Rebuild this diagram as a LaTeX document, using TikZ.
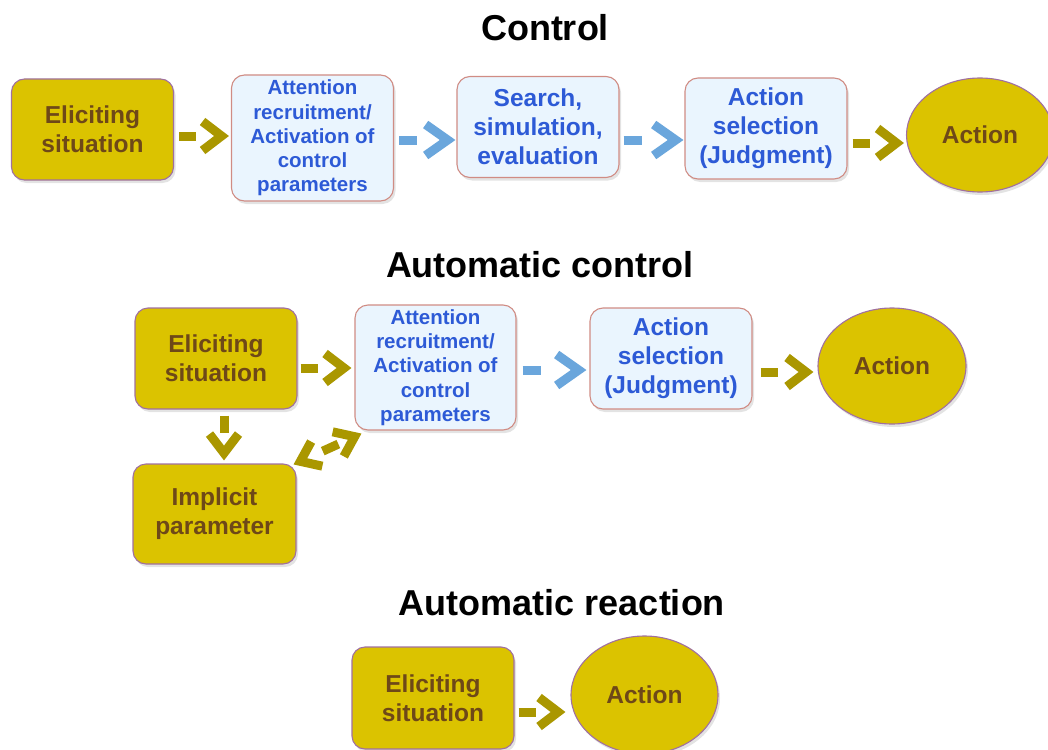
\documentclass[tikz,border=0pt]{standalone}
\usepackage{fontspec}
\setmainfont{Liberation Sans}
\usetikzlibrary{shapes.geometric,arrows.meta,shadows,calc}
\definecolor{gfill}{RGB}{219,195,0}
\definecolor{gborder}{RGB}{160,112,160}
\definecolor{gtext}{RGB}{110,72,24}
\definecolor{garrowc}{RGB}{170,151,0}
\definecolor{bfill}{RGB}{234,245,254}
\definecolor{bborder}{RGB}{208,140,132}
\definecolor{btext}{RGB}{45,90,214}
\definecolor{barrowc}{RGB}{106,166,220}
\begin{document}
\begin{tikzpicture}[x=1pt,y=-1pt,
  base/.style={rounded corners=13pt, line width=1.1pt, inner sep=0pt, align=center,
    font=\bfseries\fontsize{24.5}{29}\selectfont,
    drop shadow={opacity=0.22,shadow xshift=2pt,shadow yshift=-3pt}},
  gbox/.style={base, draw=gborder, fill=gfill, text=gtext, minimum width=162pt, minimum height=101pt},
  bbox/.style={base, draw=bborder, fill=bfill, text=btext, minimum width=162pt, minimum height=101pt},
  small/.style={font=\bfseries\fontsize{20.5}{24.3}\selectfont},
  gell/.style={ellipse, draw=gborder, fill=gfill, text=gtext, line width=1.1pt, inner sep=0pt,
    font=\bfseries\fontsize{24.5}{29}\selectfont,
    drop shadow={opacity=0.22,shadow xshift=2pt,shadow yshift=-3pt}},
  title/.style={font=\bfseries\fontsize{36}{40}\selectfont, text=black},
  garrow/.style={draw=garrowc, line width=9pt, dash pattern=on 17pt off 500pt,
    -{Straight Barb[length=19pt,width=29pt]}},
  barrow/.style={draw=barrowc, line width=9pt, dash pattern=on 18pt off 500pt,
    -{Straight Barb[length=22pt,width=31pt]}},
  gdtips/.style={draw=garrowc, line width=9pt, dash pattern=on 0pt off 500pt, line cap=butt,
    {Straight Barb[length=18pt,width=27pt]}-{Straight Barb[length=18pt,width=27pt]}},
  gdash/.style={draw=garrowc, line width=9pt}
]
\useasboundingbox (0,0) rectangle (1048,749);

% titles
\node[title] (t1) at (545,28) {Control};
\node[title] (t2) at (540,265) {Automatic control};
\node[title] (t3) at (562,603) {Automatic reaction};

% row 1
\node[gbox] (e1) at (92.5,129.5) {Eliciting\\situation};
\node[bbox, small, minimum height=126pt] (a1) at (312.5,138) {Attention\\recruitment/\\Activation of\\control\\parameters};
\node[bbox] (s1) at (538,127) {Search,\\simulation,\\evaluation};
\node[bbox] (j1) at (766,128.5) {Action\\selection\\(Judgment)};
\node[gell, minimum width=147pt, minimum height=114pt] (x1) at (980,135) {Action};

\draw[garrow] (e1.east |- 0,136) ++(5,0) coordinate (p1) (p1) -- ($(a1.west |- 0,136)+(-2,0)$);
\draw[barrow] (a1.east |- 0,140) ++(5,0) coordinate (p2) (p2) -- ($(s1.west |- 0,140)+(-1,0)$);
\draw[barrow] (s1.east |- 0,140) ++(4,0) coordinate (p3) (p3) -- ($(j1.west |- 0,140)+(-1,0)$);
\draw[garrow] (j1.east |- 0,143) ++(5,0) coordinate (p4) (p4) -- ($(x1.west |- 0,143)+(-2,0)$);

% row 2
\node[gbox] (e2) at (216,358.5) {Eliciting\\situation};
\node[bbox, small, minimum width=161pt, minimum height=125pt] (a2) at (435.5,367.5) {Attention\\recruitment/\\Activation of\\control\\parameters};
\node[bbox] (j2) at (671,358.5) {Action\\selection\\(Judgment)};
\node[gell, minimum width=148pt, minimum height=116pt] (x2) at (892,366) {Action};
\node[gbox, minimum width=163pt, minimum height=100pt] (imp) at (214.5,514) {Implicit\\parameter};

\draw[garrow] (e2.east |- 0,368) ++(3,0) coordinate (q1) (q1) -- ($(a2.west |- 0,368)+(-3,0)$);
\draw[barrow] (a2.east |- 0,370) ++(6,0) coordinate (q2) (q2) -- ($(j2.west |- 0,370)+(-3,0)$);
\draw[garrow] (j2.east |- 0,372) ++(8,0) coordinate (q3) (q3) -- ($(x2.west |- 0,372)+(-4,0)$);
\draw[garrow] (e2.south -| 224,0) ++(0,6) coordinate (q4) (q4) -- ($(imp.north -| 224,0)+(0,-3)$);
\coordinate (d1) at ($(imp.north east)+(-3,1)$);
\coordinate (d2) at ($(a2.south west)+(7,3)$);
\draw[gdtips] (d1) -- (d2);
\draw[gdash] ($(d1)!0.43!(d2)$) -- ($(d1)!0.66!(d2)$);

% row 3
\node[gbox, minimum height=102pt] (e3) at (433,698) {Eliciting\\situation};
\node[gell, minimum width=147pt, minimum height=118pt] (x3) at (644.5,695) {Action};
\draw[garrow] (e3.east |- 0,712) ++(4,0) coordinate (r1) (r1) -- ($(x3.west |- 0,712)+(-5,0)$);
\end{tikzpicture}
\end{document}
